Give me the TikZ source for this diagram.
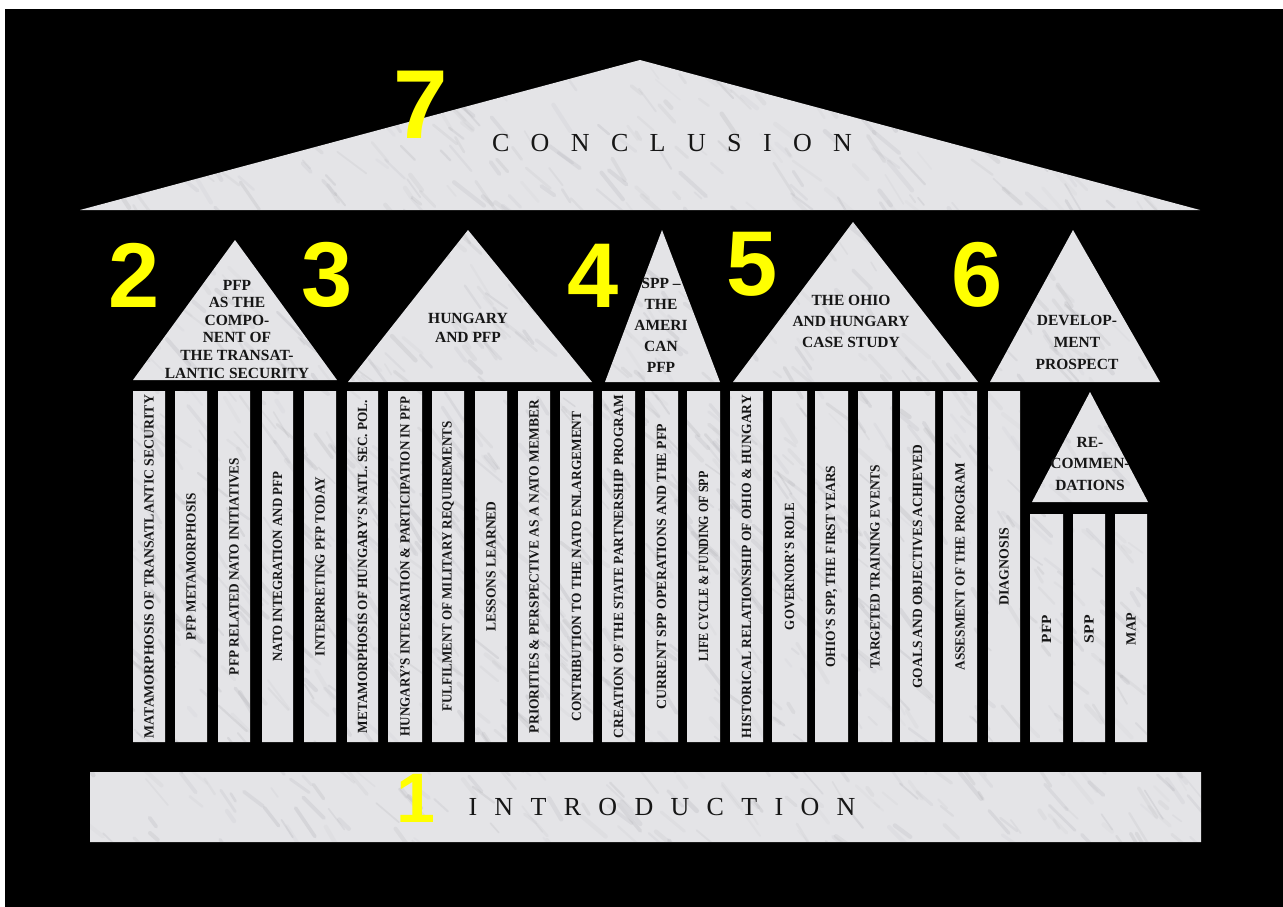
\documentclass[tikz,border=0pt]{standalone}
\usepackage{fontspec}
\setmainfont{Liberation Serif}
\newfontfamily\digitfont{Liberation Sans}
\usepackage{graphicx}
\definecolor{marble}{RGB}{228,228,231}
\definecolor{vein}{RGB}{140,140,146}
\definecolor{digit}{RGB}{255,255,0}
\definecolor{ink}{RGB}{22,22,22}
\begin{document}
\begin{tikzpicture}[x=1pt,y=-1pt,
  ptxt/.style={rotate=90,font=\fontsize{14}{14}\selectfont\bfseries,inner sep=0pt,text=ink},
  pedtxt/.style={align=center,inner sep=0pt,text=ink},
  num/.style={font=\digitfont\bfseries\fontsize{92}{92}\selectfont,text=digit,inner sep=0pt},
  bigtxt/.style={font=\fontsize{26}{26}\selectfont,inner sep=0pt,text=ink},
]
\useasboundingbox (0,0) rectangle (1283,907);
\fill[white] (0,0) rectangle (1283,907);
\fill[black] (5,9) rectangle (1283,907);

% marble shapes
\begin{scope}
\clip (80,210) -- (640,60) -- (1200,210) -- cycle
 (133,380) -- (235,240) -- (337,380) -- cycle
 (348,382) -- (468,230) -- (592,382) -- cycle
 (605,382) -- (662,230) -- (720,382) -- cycle
 (733,382) -- (853,222) -- (978,382) -- cycle
 (990,382) -- (1073,230) -- (1160,382) -- cycle
 (1032,502) -- (1090,392) -- (1148,502) -- cycle
 (90,772) rectangle (1201,842)
 foreach \a/\b in {133/165,175/207,218/250,262/293,304/336,347/378,388/422,432/464,475/507,518/550,560/593,602/635,645/678,687/720,730/763,772/807,815/848,858/892,900/935,943/977,988/1020} {(\a,391) rectangle (\b,742)}
 foreach \a/\b in {1030/1063,1073/1105,1115/1147} {(\a,514) rectangle (\b,742)};
\fill[marble] (0,0) rectangle (1283,907);
\pgfmathsetseed{11}
\foreach \i in {1,...,1500}{
  \pgfmathsetmacro\xa{80+1120*rnd}
  \pgfmathsetmacro\ya{60+790*rnd}
  \pgfmathsetmacro\len{8+30*rnd}
  \pgfmathsetmacro\ang{35+25*rnd}
  \pgfmathsetmacro\op{0.04+0.12*rnd}
  \pgfmathsetmacro\lw{1.5+3*rnd}
  \draw[vein,opacity=\op,line width=\lw,line cap=round] (\xa,\ya) -- ++(\ang:\len);
}
\end{scope}

% pillar texts
\foreach \a/\b/\L/\t [count=\k] in {
 133/165/343/{MATAMORPHOSIS OF TRANSATLANTIC SECURITY},
 175/207/147/{PFP METAMORPHOSIS},
 218/250/217/{PFP RELATED NATO INITIATIVES},
 262/293/190/{NATO INTEGRATION AND PFP},
 304/336/179/{INTERPRETING PFP TODAY},
 347/378/333/{METAMORPHOSIS OF HUNGARY'S NATL. SEC. POL.},
 388/422/340/{HUNGARY'S INTEGRATION \& PARTICIPATION IN PFP},
 432/464/290/{FULFILMENT OF MILITARY REQUIREMENTS},
 475/507/130/{LESSONS LEARNED},
 518/550/333/{PRIORITIES \& PERSPECTIVE AS A NATO MEMBER},
 560/593/310/{CONTRIBUTION TO THE NATO ENLARGEMENT},
 602/635/343/{CREATION OF THE STATE PARTNERSHIP PROGRAM},
 645/678/285/{CURRENT SPP OPERATIONS AND THE PFP},
 687/720/190/{LIFE CYCLE \& FUNDING OF SPP},
 730/763/343/{HISTORICAL RELATIONSHIP OF OHIO \& HUNGARY},
 772/807/127/{GOVERNOR'S ROLE},
 815/848/202/{OHIO'S SPP, THE FIRST YEARS},
 858/892/204/{TARGETED TRAINING EVENTS},
 900/935/244/{GOALS AND OBJECTIVES ACHIEVED},
 943/977/208/{ASSESMENT OF THE PROGRAM},
 988/1020/78/{DIAGNOSIS}}
{
  \node[ptxt] (p\k) at ({(\a+\b)/2},566.5) {\resizebox{\L pt}{\height}{\t}};
}
\foreach \a/\b/\L/\t [count=\k] in {1030/1063/28/PFP,1073/1105/28/SPP,1115/1147/32/MAP}
{
  \node[ptxt] (q\k) at ({(\a+\b)/2},629) {\resizebox{\L pt}{\height}{\t}};
}

% pediment texts
\node[pedtxt,font=\fontsize{15.5}{17.6}\selectfont\bfseries] (t2) at (237,329)
  {PFP\\AS THE\\COMPO-\\NENT OF\\THE TRANSAT-\\LANTIC SECURITY};
\node[pedtxt,font=\fontsize{15.5}{19}\selectfont\bfseries] (t3) at (468,327.5)
  {HUNGARY\\AND PFP};
\node[pedtxt,font=\fontsize{15.5}{21}\selectfont\bfseries] (t4) at (661,325)
  {SPP --\\THE\\AMERI\\CAN\\PFP};
\node[pedtxt,font=\fontsize{15.5}{21}\selectfont\bfseries] (t5) at (851,321)
  {THE OHIO\\AND HUNGARY\\CASE STUDY};
\node[pedtxt,font=\fontsize{15.5}{22}\selectfont\bfseries] (t6) at (1077,342)
  {DEVELOP-\\MENT\\PROSPECT};
\node[pedtxt,font=\fontsize{15.5}{21.5}\selectfont\bfseries] (t7) at (1090,463.5)
  {RE-\\COMMEN-\\DATIONS};

% big labels
\node[bigtxt] (concl) at (672,143)
  {\makebox[360pt][s]{C\hfil O\hfil N\hfil C\hfil L\hfil U\hfil S\hfil I\hfil O\hfil N}};
\node[bigtxt] (intro) at (662,807)
  {\makebox[387pt][s]{I\hfil N\hfil T\hfil R\hfil O\hfil D\hfil U\hfil C\hfil T\hfil I\hfil O\hfil N}};

% numbers
\node[num] (n2) at (134,275) {2};
\node[num] (n3) at (327,275) {3};
\node[num] (n4) at (593,276) {4};
\node[num] (n5) at (752,264) {5};
\node[num] (n6) at (977,275) {6};
\node[num,font=\digitfont\bfseries\fontsize{98}{98}\selectfont] (n7) at (421,105) {7};
\node[num,font=\digitfont\bfseries\fontsize{70}{70}\selectfont] (n1) at (416,798) {1};
\end{tikzpicture}
\end{document}
